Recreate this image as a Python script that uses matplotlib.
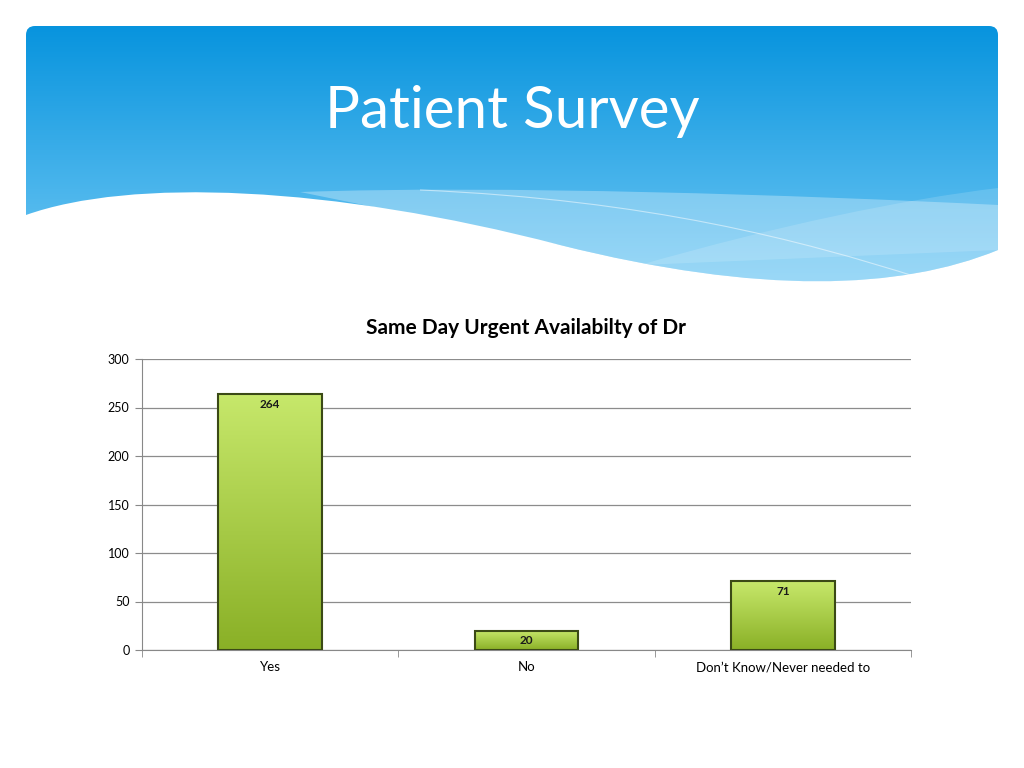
import numpy as np
import matplotlib.pyplot as plt
from matplotlib.patches import FancyBboxPatch, PathPatch
from matplotlib.path import Path

plt.rcParams['font.family'] = ['Lato', 'DejaVu Sans']

categories = ['Yes', 'No', 'Don\u2019t Know/Never needed to']
values = [264, 20, 71]
chart_title = 'Same Day Urgent Availabilty of Dr'
slide_title = 'Patient Survey'

fig = plt.figure(figsize=(10.24, 7.68), dpi=100)

# background / header drawn in pixel coords
bg = fig.add_axes([0, 0, 1, 1])
bg.set_xlim(0, 1024)
bg.set_ylim(768, 0)
bg.axis('off')

grad = np.linspace(0, 1, 256).reshape(-1, 1)
top_c = np.array([0.03, 0.58, 0.87])
bot_c = np.array([0.45, 0.79, 0.96])
img = top_c + (bot_c - top_c) * grad[..., None]
im = bg.imshow(img.reshape(256, 1, 3), extent=[26, 998, 290, 26], aspect='auto', zorder=1)
box = FancyBboxPatch((26, 26), 972, 270, boxstyle='round,pad=0,rounding_size=9',
                     transform=bg.transData, facecolor='none', edgecolor='none')
bg.add_patch(box)
im.set_clip_path(box)

# light bands
band1 = Path([(300, 192), (500, 185), (800, 195), (998, 205), (998, 250),
              (900, 290), (760, 295), (560, 245), (300, 192)],
             [Path.MOVETO, Path.CURVE4, Path.CURVE4, Path.CURVE4, Path.LINETO,
              Path.CURVE4, Path.CURVE4, Path.CURVE4, Path.CLOSEPOLY])
bg.add_patch(PathPatch(band1, facecolor='white', edgecolor='none', alpha=0.3, zorder=2))
band2 = Path([(640, 265), (780, 225), (900, 200), (998, 188), (998, 250), (640, 265)],
             [Path.MOVETO, Path.CURVE4, Path.CURVE4, Path.CURVE4, Path.LINETO, Path.CLOSEPOLY])
bg.add_patch(PathPatch(band2, facecolor='white', edgecolor='none', alpha=0.15, zorder=2))
line = Path([(420, 190), (650, 200), (800, 240), (920, 278)],
            [Path.MOVETO, Path.CURVE4, Path.CURVE4, Path.CURVE4])
bg.add_patch(PathPatch(line, facecolor='none', edgecolor='white', alpha=0.5, lw=0.8, zorder=2))

# white wave
wave = Path([(26, 215), (130, 178), (330, 185), (560, 245),
             (760, 295), (900, 290), (998, 250),
             (1000, 300), (24, 300), (26, 215)],
            [Path.MOVETO, Path.CURVE4, Path.CURVE4, Path.CURVE4,
             Path.CURVE4, Path.CURVE4, Path.CURVE4,
             Path.LINETO, Path.LINETO, Path.CLOSEPOLY])
bg.add_patch(PathPatch(wave, facecolor='white', edgecolor='none', zorder=3))

bg.text(512, 112, slide_title, color='white', fontsize=42, ha='center', va='center', zorder=4)

# chart
ax = fig.add_axes([142 / 1024, 1 - 650 / 768, 769 / 1024, 291 / 768])
x = np.arange(len(categories))
bars = ax.bar(x, values, width=0.405, color='none', edgecolor='#3b4a16', linewidth=1.5, zorder=3)

bar_grad = np.linspace(0, 1, 256).reshape(-1, 1)
c_top = np.array([0.78, 0.91, 0.42])
c_bot = np.array([0.54, 0.69, 0.15])
bimg = (c_bot + (c_top - c_bot) * bar_grad[..., None]).reshape(256, 1, 3)
for b in bars:
    bx, by = b.get_x(), b.get_y()
    w, h = b.get_width(), b.get_height()
    g = ax.imshow(bimg, extent=[bx, bx + w, by, by + h], origin='lower', aspect='auto', zorder=2)
    g.set_clip_path(b)

for xi, v in zip(x, values):
    ax.text(xi, v - 5, str(v), ha='center', va='top', fontsize=8.5, fontweight='bold', color='#1a1a1a', zorder=4)

ax.set_xlim(-0.5, 2.5)
ax.set_ylim(0, 300)
ax.set_yticks(range(0, 301, 50))
ax.set_xticks(x)
ax.set_xticklabels(categories, fontsize=9.5)
ax.set_xticks([-0.5, 0.5, 1.5, 2.5], minor=True)
ax.tick_params(axis='x', which='major', length=0, pad=8)
ax.tick_params(axis='x', which='minor', length=5, color='#888888')
ax.tick_params(axis='y', length=5, color='#888888', labelsize=9, pad=4)
ax.yaxis.grid(True, color='#8c8c8c', linewidth=0.9, zorder=0)
ax.set_axisbelow(True)
for s in ['top', 'right']:
    ax.spines[s].set_visible(False)
ax.spines['left'].set_color('#888888')
ax.spines['bottom'].set_color('#888888')
ax.set_title(chart_title, fontsize=15, fontweight='bold', pad=18)

fig.savefig('out.png', dpi=100)
